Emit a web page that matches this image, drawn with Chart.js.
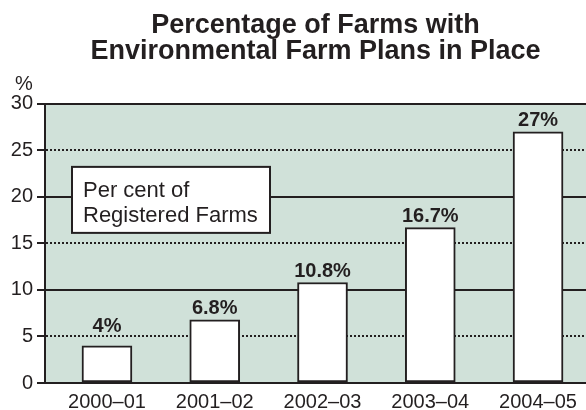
<!DOCTYPE html>
<html>
<head>
<meta charset="utf-8">
<script src="https://cdn.jsdelivr.net/npm/chart.js@4/dist/chart.umd.min.js"></script>
<style>
  html, body { margin: 0; padding: 0; background: #fff; }
  #wrap { width: 586px; height: 410px; }
</style>
</head>
<body>
<div id="wrap"><canvas id="farmChart"></canvas></div>
<script>
const categories = ['2000–01', '2001–02', '2002–03', '2003–04', '2004–05'];
const farmPercent = [4, 6.8, 10.8, 16.7, 27];
const valueLabels = ['4%', '6.8%', '10.8%', '16.7%', '27%'];
const yTicks = [0, 5, 10, 15, 20, 25, 30];

const ink = '#231f20';
const plotBg = '#d0e1d9';
const fontFamily = '"Liberation Sans", Arial, sans-serif';

// fond vert de la zone de tracé + boîte de légende + étiquettes
const decorPlugin = {
    id: 'decor',
    beforeDraw(chart) {
        const { ctx, chartArea: a } = chart;
        ctx.save();
        ctx.fillStyle = plotBg;
        ctx.fillRect(a.left, a.top, a.right - a.left, a.bottom - a.top);
        ctx.restore();
    },
    afterDatasetsDraw(chart) {
        const { ctx, chartArea: a } = chart;
        const yScale = chart.scales.y;
        const meta = chart.getDatasetMeta(0);
        ctx.save();
        // valeurs au-dessus des barres (remontées si elles chevauchent une ligne de grille)
        ctx.fillStyle = ink;
        ctx.font = 'bold 20px ' + fontFamily;
        ctx.textAlign = 'center';
        ctx.textBaseline = 'alphabetic';
        meta.data.forEach((bar, i) => {
            let base = bar.y - 6;
            yTicks.forEach(t => {
                const py = yScale.getPixelForValue(t);
                if (py > base - 15 && py < base + 2) base = py - 4;
            });
            ctx.fillText(valueLabels[i], bar.x, base);
        });
        // "%" au-dessus de l'axe
        ctx.font = '20px ' + fontFamily;
        ctx.fillText('%', a.left - 21, a.top - 14);
        // boîte "Per cent of Registered Farms"
        const bx = a.left + 27, by = a.top + 63, bw = 198, bh = 66;
        ctx.fillStyle = '#fff';
        ctx.fillRect(bx, by, bw, bh);
        ctx.strokeStyle = ink;
        ctx.lineWidth = 2;
        ctx.strokeRect(bx, by, bw, bh);
        ctx.fillStyle = ink;
        ctx.textAlign = 'left';
        ctx.font = '22px ' + fontFamily;
        ctx.fillText('Per cent of', bx + 11, by + 30);
        ctx.fillText('Registered Farms', bx + 11, by + 55);
        ctx.restore();
    }
};

new Chart(document.getElementById('farmChart'), {
    type: 'bar',
    plugins: [decorPlugin],
    data: {
        datasets: [{
            data: farmPercent.map((v, i) => ({ x: i, y: v })),
            backgroundColor: '#ffffff',
            borderColor: ink,
            borderWidth: 2,
            borderSkipped: false,
            barThickness: 50
        }]
    },
    options: {
        responsive: true,
        maintainAspectRatio: false,
        animation: false,
        layout: { padding: { top: 12.5, left: 0, right: 0, bottom: 0 } },
        plugins: {
            legend: { display: false },
            tooltip: { enabled: false },
            title: {
                display: true,
                fullSize: false,
                text: ['Percentage of Farms with', 'Environmental Farm Plans in Place'],
                color: ink,
                font: { family: fontFamily, size: 27, weight: 'bold', lineHeight: 0.97 },
                padding: { top: 0, bottom: 39 }
            }
        },
        scales: {
            x: {
                type: 'linear',
                offset: false,
                min: -0.575,
                max: 4.445,
                afterBuildTicks: (scale) => { scale.ticks = categories.map((c, i) => ({ value: i })); },
                afterFit: (scale) => { scale.height = 27; },
                grid: { display: false, drawTicks: false },
                border: { display: true, color: ink, width: 2 },
                ticks: {
                    color: ink,
                    padding: 7,
                    autoSkip: false,
                    maxRotation: 0,
                    font: { family: fontFamily, size: 20 },
                    callback: (v) => categories[v]
                }
            },
            y: {
                min: 0,
                max: 30,
                afterBuildTicks: (scale) => { scale.ticks = yTicks.map(v => ({ value: v })); },
                afterFit: (scale) => { scale.width = 45; },
                grid: {
                    color: ink,
                    lineWidth: 2,
                    tickLength: 8,
                    tickColor: ink,
                    tickWidth: 2
                },
                border: {
                    display: true,
                    color: ink,
                    width: 2,
                    dash: (c) => (c.tick && c.tick.value % 10 !== 0) ? [2, 2] : []
                },
                ticks: {
                    color: ink,
                    padding: 4,
                    font: { family: fontFamily, size: 20 }
                }
            }
        }
    }
});
</script>
</body>
</html>
